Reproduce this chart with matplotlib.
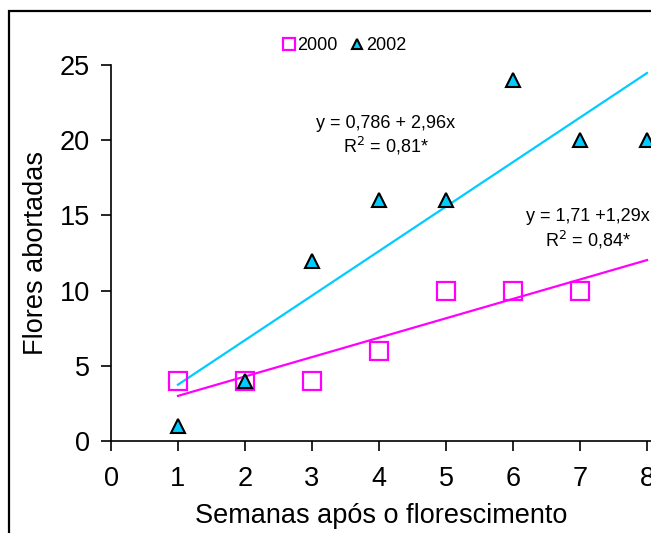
import numpy as np
from matplotlib import pyplot as plt
from matplotlib.patches import Rectangle

plt.rcParams['font.family'] = ['Liberation Sans', 'DejaVu Sans']

# Flores abortadas por semana
semanas_2000 = [1, 2, 3, 4, 5, 6, 7]
flores_2000 = [4, 4, 4, 6, 10, 10, 10]
semanas_2002 = [1, 2, 3, 4, 5, 6, 7, 8]
flores_2002 = [1, 4, 12, 16, 16, 24, 20, 20]

# Ajustes lineares (intercepto, inclinacao)
coef_2000 = (1.71, 1.29)
coef_2002 = (0.786, 2.96)
eq_2000 = ["y = 1,71 +1,29x", r"R$^{2}$ = 0,84*"]
eq_2002 = ["y = 0,786 + 2,96x", r"R$^{2}$ = 0,81*"]

magenta = '#FF00FF'
ciano = '#00CCFF'

fig = plt.figure(figsize=(6.51, 5.33), dpi=100)
# moldura do grafico
fig.patches.append(Rectangle((9 / 651, -0.2), 1.2, 1.2 - 11 / 533,
                             transform=fig.transFigure, fill=False,
                             edgecolor='black', linewidth=1.6))

ax = fig.add_axes([111 / 651, 92 / 533, 8.5 * 67 / 651, 376 / 533])

xs = np.array([1, 8])
ax.plot(xs, coef_2002[0] + coef_2002[1] * xs, color=ciano, lw=1.6, zorder=2)
ax.plot(xs, coef_2000[0] + coef_2000[1] * xs, color=magenta, lw=1.6, zorder=2)

ax.plot(semanas_2000, flores_2000, ls='none', marker='s', ms=12.5,
        mfc='none', mec=magenta, mew=1.6, label='2000', zorder=3)
ax.plot(semanas_2002, flores_2002, ls='none', marker='^', ms=10,
        mfc=ciano, mec='black', mew=1.5, label='2002', zorder=4, clip_on=False)

ax.set_xlim(0, 8.5)
ax.set_ylim(0, 25)
ax.set_xticks(range(0, 9))
ax.set_yticks(range(0, 26, 5))
ax.spines['top'].set_visible(False)
ax.spines['right'].set_visible(False)
for s in ['left', 'bottom']:
    ax.spines[s].set_linewidth(1.2)
ax.tick_params(axis='both', direction='out', length=7, width=1.2,
               labelsize=19.5, pad=8)
ax.tick_params(axis='x', pad=11)

ax.set_xlabel("Semanas após o florescimento", fontsize=19.5, labelpad=9)
ax.xaxis.set_label_coords(0.4745, -0.2)
ax.xaxis.label.set_va('center')
ax.set_ylabel("Flores abortadas", fontsize=19.5, labelpad=8)

ax.text(4.1, 21.1, eq_2002[0], ha='center', va='center', fontsize=13)
ax.text(4.1, 19.6, eq_2002[1], ha='center', va='center', fontsize=13)
ax.text(7.12, 14.9, eq_2000[0], ha='center', va='center', fontsize=13)
ax.text(7.12, 13.4, eq_2000[1], ha='center', va='center', fontsize=13)

leg = ax.legend(loc='center', bbox_to_anchor=(3.48, 26.3), bbox_transform=ax.transData,
                ncol=2, frameon=False, fontsize=13, handlelength=0.7,
                handletextpad=0.15, columnspacing=0.7, markerscale=0.7)

fig.savefig("out.png", dpi=100)
